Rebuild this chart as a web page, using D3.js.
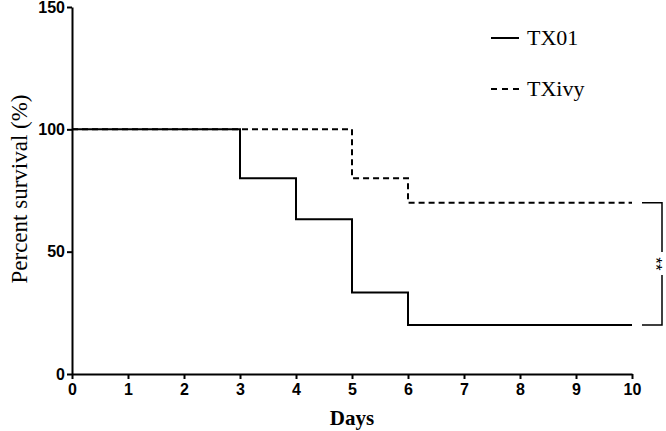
<!DOCTYPE html>
<html>
<head>
<meta charset="utf-8">
<script src="https://cdn.jsdelivr.net/npm/d3@7"></script>
<style>
  body { margin: 0; background: #fff; }
  svg { display: block; }
</style>
</head>
<body>
<svg id="chart" width="666" height="431"></svg>
<script>
// survival data (step points: day, percent)
const tx01Days = [0, 3, 4, 5, 6, 10];
const tx01Values = [100, 80, 63.3, 33.3, 20, 20];
const txivyDays = [0, 5, 6, 10];
const txivyValues = [100, 80, 70, 70];
const seriesNames = ["TX01", "TXivy"];
const xTicks = [0, 1, 2, 3, 4, 5, 6, 7, 8, 9, 10];
const yTicks = [0, 50, 100, 150];

const svg = d3.select("#chart");
const x = d3.scaleLinear().domain([0, 10]).range([72, 632]);
const y = d3.scaleLinear().domain([0, 150]).range([374, 7]);

const toPoints = (days, vals) => days.map((d, i) => ({ day: d, v: vals[i] }));
const line = d3.line()
    .x(d => x(d.day))
    .y(d => y(d.v))
    .curve(d3.curveStepAfter);

const series = [
    { name: seriesNames[0], pts: toPoints(tx01Days, tx01Values), dash: null },
    { name: seriesNames[1], pts: toPoints(txivyDays, txivyValues), dash: "6,4" }
];

// dashed first so the solid one sits on top where they overlap
svg.append("g").selectAll("path")
    .data(series.slice().reverse())
    .enter().append("path")
    .attr("d", d => line(d.pts))
    .attr("fill", "none")
    .attr("stroke", "#000")
    .attr("stroke-width", 2)
    .attr("stroke-dasharray", d => d.dash);

// axes
const xAxis = svg.append("g")
    .attr("transform", "translate(0," + y(0) + ")")
    .call(d3.axisBottom(x).tickValues(xTicks).tickSize(5).tickPadding(5).tickSizeOuter(0));
const yAxis = svg.append("g")
    .attr("transform", "translate(" + x(0) + ",0)")
    .call(d3.axisLeft(y).tickValues(yTicks).tickSize(5).tickPadding(2).tickSizeOuter(0));

[xAxis, yAxis].forEach(a => {
    a.select(".domain").attr("stroke", "#000").attr("stroke-width", 2);
    a.selectAll(".tick line").attr("stroke", "#000").attr("stroke-width", 2);
    a.selectAll(".tick text")
        .attr("fill", "#000")
        .style("font-family", "Liberation Sans, Arial, sans-serif")
        .style("font-size", "16px")
        .style("font-weight", "bold");
});

// axis titles
svg.append("text")
    .attr("x", 352)
    .attr("y", 425)
    .attr("text-anchor", "middle")
    .style("font-family", "Liberation Serif, Times New Roman, serif")
    .style("font-size", "21px")
    .style("font-weight", "bold")
    .text("Days");

svg.append("text")
    .attr("transform", "translate(27," + 189 + ") rotate(-90)")
    .attr("text-anchor", "middle")
    .style("font-family", "Liberation Serif, Times New Roman, serif")
    .style("font-size", "23px")
    .text("Percent survival (%)");

// legend
const legend = svg.append("g");
series.forEach((s, i) => {
    const ly = 38 + i * 51;
    legend.append("line")
        .attr("x1", 491).attr("x2", 519)
        .attr("y1", ly).attr("y2", ly)
        .attr("stroke", "#000")
        .attr("stroke-width", 2)
        .attr("stroke-dasharray", s.dash ? "6,5" : null);
    legend.append("text")
        .attr("x", 527)
        .attr("y", ly + 7)
        .style("font-family", "Liberation Serif, Times New Roman, serif")
        .style("font-size", "22px")
        .text(s.name);
});

// significance bracket between the two final values
const bx0 = 642, bx1 = 662;
const yTop = y(txivyValues[txivyValues.length - 1]);
const yBot = y(tx01Values[tx01Values.length - 1]);
const midY = (yTop + yBot) / 2;
svg.append("path")
    .attr("d", `M${bx0},${yTop}H${bx1}V${midY - 12}M${bx1},${midY + 11}V${yBot}H${bx0}`)
    .attr("fill", "none")
    .attr("stroke", "#000")
    .attr("stroke-width", 1.5);
svg.append("text")
    .attr("transform", `translate(${bx1 - 12},${midY}) rotate(90)`)
    .attr("text-anchor", "middle")
    .style("font-family", "Liberation Sans, Arial, sans-serif")
    .style("font-size", "17px")
    .text("**");
</script>
</body>
</html>
